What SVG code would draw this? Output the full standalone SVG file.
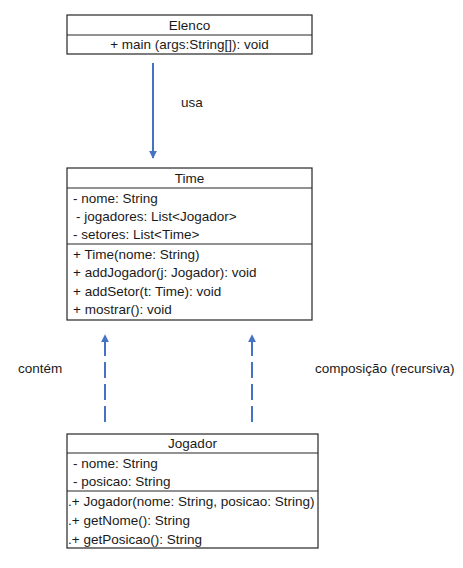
<svg xmlns="http://www.w3.org/2000/svg" width="463" height="568" viewBox="0 0 463 568">
<style>
.box{fill:#fff;stroke:#262626;stroke-width:1.2}
.ln{stroke:#262626;stroke-width:1.2}
text{font-family:"Liberation Sans",Arial,sans-serif;font-size:13.5px;fill:#1a1a1a}
.c{text-anchor:middle}
.arr{stroke:#4472C4;stroke-width:2;fill:none}
.dash{stroke-dasharray:16 6}
</style>
<defs>
<marker id="ah" viewBox="0 0 10 10" refX="9" refY="5" markerWidth="4" markerHeight="4" orient="auto" markerUnits="strokeWidth">
<path d="M0,0 L10,5 L0,10 z" fill="#4472C4"/>
</marker>
</defs>
<rect width="463" height="568" fill="#fff"/>
<g id="Elenco">
<rect class="box" x="67" y="15" width="245" height="39"/>
<line class="ln" x1="67" y1="35" x2="312" y2="35"/>
<text class="c" x="189.5" y="30">Elenco</text>
<text class="c" x="189.5" y="49">+ main (args:String[]): void</text>
</g>
<g id="Time">
<rect class="box" x="67" y="168" width="245" height="152"/>
<line class="ln" x1="67" y1="188" x2="312" y2="188"/>
<line class="ln" x1="67" y1="244" x2="312" y2="244"/>
<text class="c" x="189.5" y="183">Time</text>
<text x="73" y="203">- nome: String</text>
<text x="76" y="221">- jogadores: List&lt;Jogador&gt;</text>
<text x="73" y="239">- setores: List&lt;Time&gt;</text>
<text x="73" y="259">+ Time(nome: String)</text>
<text x="73" y="277">+ addJogador(j: Jogador): void</text>
<text x="73" y="296">+ addSetor(t: Time): void</text>
<text x="73" y="314">+ mostrar(): void</text>
</g>
<g id="Jogador">
<rect class="box" x="67" y="434" width="251" height="114"/>
<line class="ln" x1="67" y1="453" x2="318" y2="453"/>
<line class="ln" x1="67" y1="491" x2="318" y2="491"/>
<text class="c" x="192.5" y="448">Jogador</text>
<text x="73" y="468">- nome: String</text>
<text x="73" y="486">- posicao: String</text>
<text x="68" y="506">.+ Jogador(nome: String, posicao: String)</text>
<text x="68" y="525">.+ getNome(): String</text>
<text x="68" y="544">.+ getPosicao(): String</text>
</g>
<g id="connectors">
<line class="arr" x1="153" y1="63" x2="153" y2="158" marker-end="url(#ah)"/>
<text x="181" y="107">usa</text>
<line class="arr dash" x1="105" y1="422" x2="105" y2="335" marker-end="url(#ah)"/>
<line class="arr dash" x1="252" y1="422" x2="252" y2="335" marker-end="url(#ah)"/>
<text x="18" y="373">contém</text>
<text x="315" y="373">composição (recursiva)</text>
</g>
</svg>
